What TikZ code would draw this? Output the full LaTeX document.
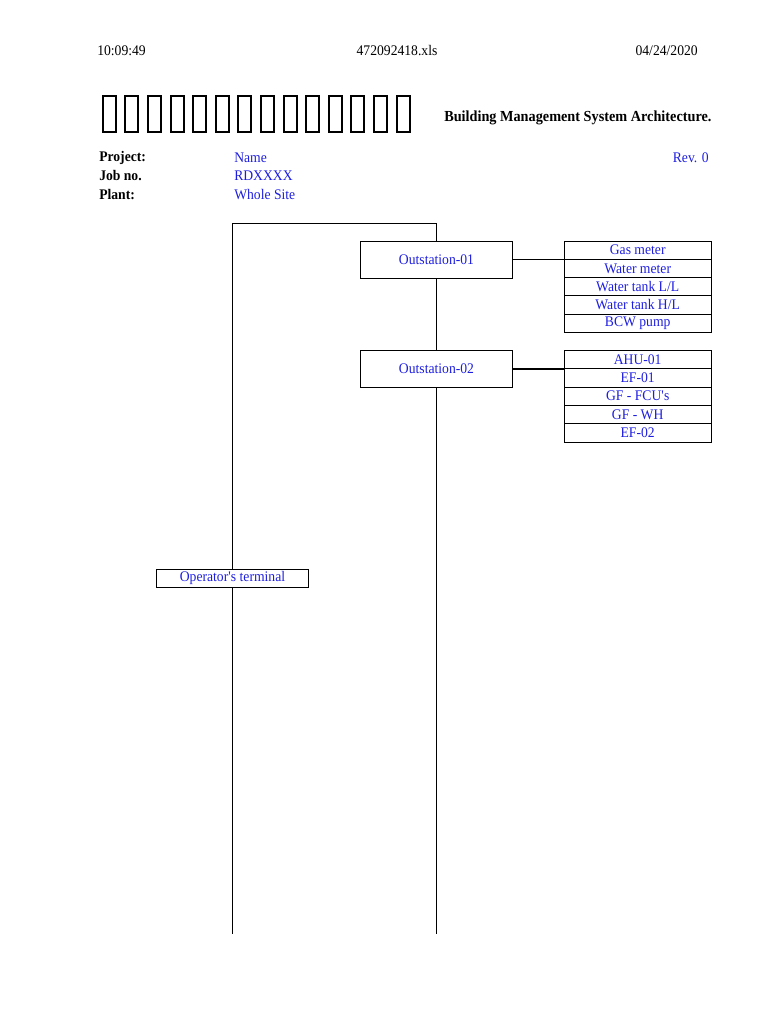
\documentclass[tikz,border=0pt]{standalone}
\usepackage{fontspec}
\setmainfont{Liberation Serif}[FakeStretch=0.93]
\usetikzlibrary{positioning}
\definecolor{azul}{RGB}{30,30,225}
\newcommand{\letra}{\fontsize{11}{13}\selectfont}
\tikzset{
  caja/.style={draw, line width=0.6pt, fill=white, inner sep=0pt, minimum width=113.7pt, minimum height=28pt, text=azul, font=\letra},
  celda/.style={draw, line width=0.6pt, inner sep=0pt, minimum width=110pt, minimum height=13.7pt, text=azul, font=\letra},
  texto/.style={inner sep=0pt, font=\letra},
  linea/.style={line width=0.8pt}
}
\begin{document}
\begin{tikzpicture}[x=0.75pt,y=-0.75pt]
            \useasboundingbox (0,0) rectangle (768,1024);
            % Encabezado
            \node[texto, anchor=west] (hora) at (97,51) {10:09:49};
            \node[texto] (archivo) at (397,51) {472092418.xls};
            \node[texto, anchor=east] (fecha) at (698,51) {04/24/2020};

            % Titulo (caracteres que no se ven)
            \draw[line width=1.5pt] (102.7,96.3) rectangle ++(13,35.7) (125.3,96.3) rectangle ++(13,35.7)
              (147.9,96.3) rectangle ++(13,35.7) (170.5,96.3) rectangle ++(13,35.7)
              (193.1,96.3) rectangle ++(13,35.7) (215.7,96.3) rectangle ++(13,35.7)
              (238.3,96.3) rectangle ++(13,35.7) (260.9,96.3) rectangle ++(13,35.7)
              (283.5,96.3) rectangle ++(13,35.7) (306.1,96.3) rectangle ++(13,35.7)
              (328.7,96.3) rectangle ++(13,35.7) (351.3,96.3) rectangle ++(13,35.7)
              (373.9,96.3) rectangle ++(13,35.7) (396.5,96.3) rectangle ++(13,35.7);
            \node[inner sep=0pt, anchor=west, font=\fontsize{11.5}{13}\selectfont\bfseries] (sistema) at (444,118) {Building Management System Architecture.};

            % Datos del proyecto
            \node[texto, anchor=west] (proyecto) at (99,158) {\textbf{Project:}};
            \node[texto, anchor=west] (trabajo) at (99,176) {\textbf{Job no.}};
            \node[texto, anchor=west] (planta) at (99,195) {\textbf{Plant:}};
            \node[texto, anchor=west, text=azul] (nombre) at (234,158) {Name};
            \node[texto, anchor=west, text=azul] (codigo) at (234,176) {RDXXXX};
            \node[texto, anchor=west, text=azul] (sitio) at (234,195) {Whole Site};
            \node[texto, anchor=east, text=azul] (revision) at (709,158) {Rev. 0};

            % Estaciones
            \node[caja] (os1) at (436.5,259.7) {Outstation-01};
            \node[caja] (os2) at (436.5,369) {Outstation-02};
            \node[caja, minimum height=13.5pt] (terminal) at (232.5,578.3) {Operator\textquotesingle s terminal};

            % Puntos de la estacion 1
            \node[celda] (gas) at (637.7,250.1) {Gas meter};
            \node[celda] (agua) at (637.7,268.4) {Water meter};
            \node[celda] (tanquell) at (637.7,286.7) {Water tank L/L};
            \node[celda] (tanquehl) at (637.7,304.9) {Water tank H/L};
            \node[celda] (bomba) at (637.7,323.2) {BCW pump};

            % Puntos de la estacion 2
            \node[celda] (ahu) at (637.7,359.5) {AHU-01};
            \node[celda] (ef1) at (637.7,377.8) {EF-01};
            \node[celda] (fcu) at (637.7,396.2) {GF - FCU\textquotesingle s};
            \node[celda] (wh) at (637.7,414.5) {GF - WH};
            \node[celda] (ef2) at (637.7,432.8) {EF-02};

            % Bus
            \coordinate (esqizq) at (232.5,223.3);
            \coordinate (esqder) at (436.5,223.3);
            \coordinate (finizq) at (232.5,933.5);
            \coordinate (finder) at (436.5,933.5);
            \draw[linea] (terminal.north) -- (esqizq) -- (esqder) -- (os1.north);
            \draw[linea] (terminal.south) -- (finizq);
            \draw[linea] (os1.south) -- (os2.north);
            \draw[linea] (os2.south) -- (finder);
            \draw[linea] (os1.east) -- (os1.east -| gas.west);
            \draw[linea] (os2.east) -- (os2.east -| ahu.west);
        \end{tikzpicture}
\end{document}
